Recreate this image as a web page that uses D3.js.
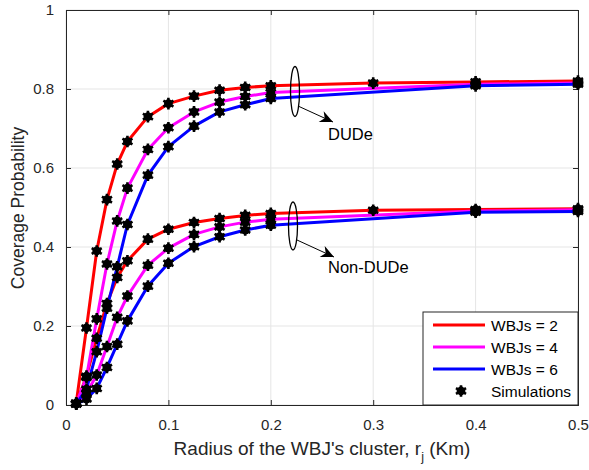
<!DOCTYPE html>
<html><head><meta charset="utf-8">
<script src="https://cdn.jsdelivr.net/npm/d3@7"></script>
<style>
body{margin:0;background:#fff;}
text{font-family:"Liberation Sans",Arial,Helvetica,sans-serif;}
</style></head>
<body><svg id="c" width="589" height="470"></svg>
<script>
// ---- data ----
const xs = [0.01,0.02,0.03,0.04,0.05,0.06,0.08,0.1,0.125,0.15,0.175,0.2,0.3,0.4,0.5];
const dudeW2 = [0.005,0.195,0.39,0.52,0.61,0.667,0.73,0.763,0.782,0.797,0.804,0.808,0.815,0.818,0.82];
const dudeW4 = [0.004,0.07,0.218,0.357,0.466,0.549,0.647,0.702,0.742,0.767,0.781,0.791,null,0.812,0.815];
const dudeW6 = [0.003,0.04,0.135,0.245,0.35,0.457,0.582,0.654,0.706,0.742,0.76,0.776,null,0.808,0.812];
const nonW2 = [0.004,0.073,0.169,0.257,0.323,0.365,0.42,0.445,0.462,0.472,0.48,0.485,0.493,0.495,0.497];
const nonW4 = [0.003,0.03,0.076,0.148,0.222,0.276,0.354,0.397,0.432,0.451,0.463,0.47,null,0.491,0.494];
const nonW6 = [0.002,0.015,0.042,0.095,0.154,0.213,0.301,0.359,0.401,0.426,0.443,0.455,null,0.488,0.49];
const seriesNames = ["WBJs = 2","WBJs = 4","WBJs = 6"];
const seriesColors = ["#ff0000","#ff00ff","#0000ff"];
const xTicks = [0,0.1,0.2,0.3,0.4,0.5];
const yTicks = [0,0.2,0.4,0.6,0.8,1];
const xLabel = "Radius of the WBJ's cluster, r";
const yLabel = "Coverage Probability";

// ---- layout ----
const L=66, R=578, T=10, B=405;
const svg = d3.select("#c");
const x = d3.scaleLinear().domain([0,0.5]).range([L,R]);
const y = d3.scaleLinear().domain([0,1]).range([B,T]);
const axCol = "#262626";

// grid
const g = svg.append("g");
g.selectAll(".gx").data(xTicks).join("line")
  .attr("x1",d=>x(d)).attr("x2",d=>x(d)).attr("y1",T).attr("y2",B)
  .attr("stroke","#e5e5e5").attr("stroke-width",1);
g.selectAll(".gy").data(yTicks).join("line")
  .attr("y1",d=>y(d)).attr("y2",d=>y(d)).attr("x1",L).attr("x2",R)
  .attr("stroke","#e5e5e5").attr("stroke-width",1);

// axes
const fs = "15px";
const xa = svg.append("g").attr("transform",`translate(0,${B})`)
  .call(d3.axisBottom(x).tickValues(xTicks).tickSize(-5).tickPadding(14).tickFormat(d3.format("")));
const xt = svg.append("g").attr("transform",`translate(0,${T})`)
  .call(d3.axisTop(x).tickValues(xTicks).tickSize(-5).tickFormat(""));
const ya = svg.append("g").attr("transform",`translate(${L},0)`)
  .call(d3.axisLeft(y).tickValues(yTicks).tickSize(-5).tickPadding(12).tickFormat(d3.format("")));
const yr = svg.append("g").attr("transform",`translate(${R},0)`)
  .call(d3.axisRight(y).tickValues(yTicks).tickSize(-5).tickFormat(""));
[xa,xt,ya,yr].forEach(a=>{
  a.select(".domain").attr("stroke",axCol).attr("stroke-width",1);
  a.selectAll(".tick line").attr("stroke",axCol);
  a.selectAll(".tick text").attr("fill",axCol).style("font-size",fs).style("font-family","Liberation Sans, Arial, sans-serif");
});

// lines
const sets = [[dudeW2,nonW2],[dudeW4,nonW4],[dudeW6,nonW6]];
const line = d3.line().x(d=>x(d[0])).y(d=>y(d[1]));
const pts = arr => xs.map((v,i)=>[v,arr[i]]).filter(d=>d[1]!=null);
sets.forEach((pair,k)=>{
  pair.forEach(arr=>{
    svg.append("path").datum(pts(arr)).attr("d",line)
      .attr("fill","none").attr("stroke",seriesColors[k]).attr("stroke-width",3)
      .attr("stroke-linejoin","round");
  });
});

// simulation markers
const star = d3.symbol().type(d3.symbolAsterisk).size(95);
function marker(sel,cx,cy){
  const m = sel.append("g").attr("transform",`translate(${cx},${cy})`);
  m.append("circle").attr("r",4.4).attr("fill","#000");
  m.append("path").attr("d",star()).attr("stroke","#000").attr("stroke-width",2.6).attr("fill","none");
}
const mk = svg.append("g");
sets.forEach(pair=>pair.forEach(arr=>pts(arr).forEach(d=>marker(mk,x(d[0]),y(d[1])))));

// annotations
function annot(cx,cy,ry,x1,y1,x2,y2,label,tx,ty){
  svg.append("ellipse").attr("cx",cx).attr("cy",cy).attr("rx",4.5).attr("ry",ry)
    .attr("fill","none").attr("stroke","#000").attr("stroke-width",1.3);
  svg.append("line").attr("x1",x1).attr("y1",y1).attr("x2",x2).attr("y2",y2)
    .attr("stroke","#000").attr("stroke-width",1);
  const ang = Math.atan2(y2-y1,x2-x1);
  const hl=13, hw=6;
  const bx = x2-hl*Math.cos(ang), by = y2-hl*Math.sin(ang);
  const nx = -Math.sin(ang), ny = Math.cos(ang);
  const inx = x2-hl*0.7*Math.cos(ang), iny = y2-hl*0.7*Math.sin(ang);
  svg.append("path").attr("d",`M${x2},${y2}L${bx+nx*hw},${by+ny*hw}L${inx},${iny}L${bx-nx*hw},${by-ny*hw}Z`)
    .attr("fill","#000");
  svg.append("text").attr("x",tx).attr("y",ty).text(label).style("font-size","16.5px").attr("fill","#000");
}
annot(295,91.5,25,298,106,333,122,"DUDe",328,140);
annot(293,226,24,297,240,334,257,"Non-DUDe",328,273);

// axis titles
const xl = svg.append("text").attr("x",322).attr("y",455).attr("text-anchor","middle")
  .style("font-size","19px").attr("fill",axCol);
xl.append("tspan").text(xLabel);
xl.append("tspan").text("j").attr("dy",6).style("font-size","12.5px");
xl.append("tspan").text(" (Km)").attr("dy",-6);
svg.append("text").attr("transform","translate(24,208) rotate(-90)").attr("text-anchor","middle")
  .style("font-size","17.5px").attr("fill",axCol).text(yLabel);

// legend
const lg = svg.append("g");
lg.append("rect").attr("x",423).attr("y",312).attr("width",155).attr("height",93)
  .attr("fill","#fff").attr("stroke",axCol).attr("stroke-width",1);
seriesNames.forEach((n,i)=>{
  const yy = 325+i*22;
  lg.append("line").attr("x1",433).attr("x2",485).attr("y1",yy).attr("y2",yy)
    .attr("stroke",seriesColors[i]).attr("stroke-width",3);
  lg.append("text").attr("x",491).attr("y",yy+5.5).text(n).style("font-size","15.5px").attr("fill","#000");
});
marker(lg,461,391);
lg.append("text").attr("x",491).attr("y",396.5).text("Simulations").style("font-size","15.5px").attr("fill","#000");
</script></body></html>
